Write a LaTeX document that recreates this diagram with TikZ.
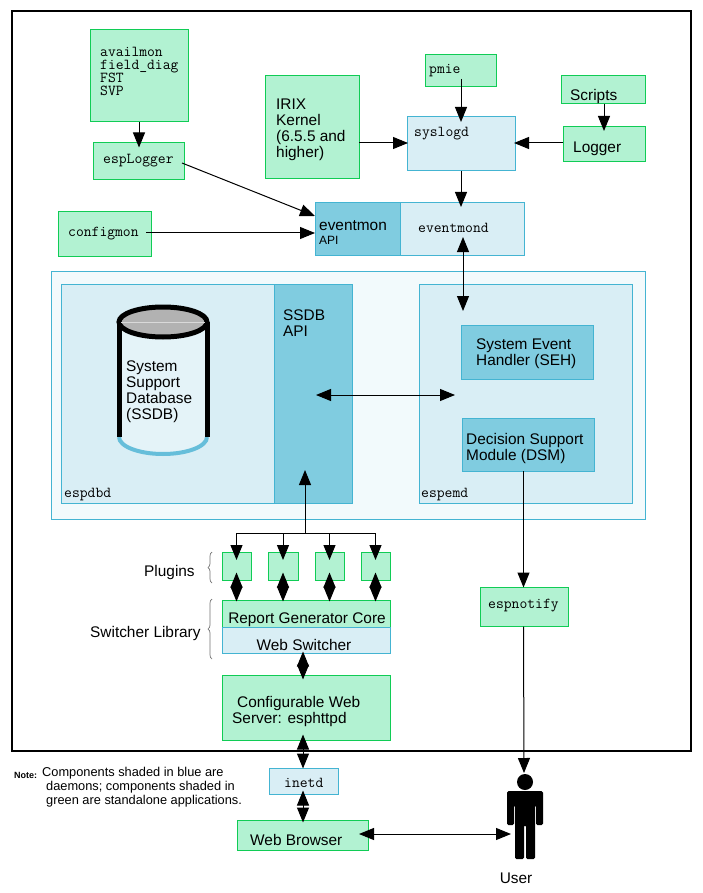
\documentclass[tikz,border=0pt]{standalone}
\usepackage{fontspec}
\setmainfont{Liberation Sans}
\usetikzlibrary{arrows.meta, decorations.pathreplacing}
\definecolor{appgreen}{HTML}{B2F2D2}
\definecolor{appedge}{HTML}{10CC55}
\definecolor{palefill}{HTML}{D9EEF5}
\definecolor{midfill}{HTML}{80CCE0}
\definecolor{blueedge}{HTML}{44B4D2}
\definecolor{outerfill}{HTML}{F2FAFC}
\definecolor{drumrim}{HTML}{66BEDA}
\tikzset{
  greenbox/.style={draw=appedge, fill=appgreen, line width=1pt, inner sep=0pt},
  palebox/.style={draw=blueedge, fill=palefill, line width=1pt, inner sep=0pt},
  midbox/.style={draw=blueedge, fill=midfill, line width=1pt, inner sep=0pt},
  sanstext/.style={anchor=west, align=left, inner sep=0pt, font=\fontsize{15.4}{16}\selectfont},
  monotext/.style={anchor=west, align=left, inner sep=0pt, font=\fontsize{15.2}{13}\selectfont\ttfamily},
  link/.style={line width=1pt},
  bracegrey/.style={draw=black!55, line width=0.7pt, decorate, decoration={brace, amplitude=4pt}},
}
\begin{document}
\begin{tikzpicture}[x=1pt, y=-1pt,
    >={Triangle[length=15pt, width=12pt]}]
    \useasboundingbox (0,0) rectangle (702,893);
    \fill[white] (0,0) rectangle (702,893);

    % outer frame
    \node[draw, line width=2pt, minimum width=679, minimum height=740] (frame) at (351.5,381) {};

    % top row
    \node[greenbox, minimum width=98, minimum height=92] (avail) at (139,76) {};
    \node[monotext] (availtxt) at (100,71) {availmon\\field\_diag\\FST\\SVP};
    \node[greenbox, minimum width=91, minimum height=37] (esplogger) at (139,161.5) {};
    \node[monotext] (esploggertxt) at (103,161) {espLogger};
    \node[greenbox, minimum width=93, minimum height=44] (configmon) at (104.5,234) {};
    \node[monotext] (configmontxt) at (68,234) {configmon};
    \node[greenbox, minimum width=94, minimum height=103] (irix) at (312,127.5) {};
    \node[sanstext] (irixtxt) at (276,130) {IRIX\\Kernel\\(6.5.5 and\\higher)};
    \node[greenbox, minimum width=71, minimum height=32] (pmie) at (460.5,71) {};
    \node[monotext] (pmietxt) at (429,71) {pmie};
    \node[palebox, minimum width=108, minimum height=54] (syslogd) at (461,144) {};
    \node[monotext] (syslogdtxt) at (414,134) {syslogd};
    \node[greenbox, minimum width=84, minimum height=28] (scripts) at (603,90) {};
    \node[sanstext] (scriptstxt) at (570,97) {Scripts};
    \node[greenbox, minimum width=82, minimum height=35] (logger) at (604,144.5) {};
    \node[sanstext] (loggertxt) at (573,149) {Logger};
    \node[midbox, minimum width=85, minimum height=52] (eventapi) at (357.5,229) {};
    \node[sanstext] (eventapitxt) at (319,226) {eventmon};
    \node[inner sep=0pt, anchor=west, font=\fontsize{12}{12}\selectfont] (apitxt) at (319,240) {API};
    \node[palebox, minimum width=124, minimum height=52] (eventmond) at (462,229) {};
    \node[monotext] (eventmondtxt) at (418,228) {eventmond};

    % middle block
    \node[draw=blueedge, fill=outerfill, line width=1pt, minimum width=594, minimum height=248] (ssdbblock) at (348,395) {};
    \node[palebox, minimum width=213, minimum height=219] (espdbd) at (167.5,393.5) {};
    \node[monotext] (espdbdtxt) at (64,495) {espdbd};
    \node[midbox, minimum width=78, minimum height=219] (ssdbapi) at (313,393.5) {};
    \node[sanstext] (ssdbapitxt) at (283,323) {SSDB\\API};
    \node[palebox, minimum width=213, minimum height=219] (espemd) at (525.5,393.5) {};
    \node[monotext] (espemdtxt) at (421,495) {espemd};
    \node[midbox, minimum width=132, minimum height=54] (seh) at (527,352) {};
    \node[sanstext] (sehtxt) at (476,354) {System Event\\Handler (SEH)};
    \node[midbox, minimum width=132, minimum height=53] (dsm) at (528,444.5) {};
    \node[sanstext] (dsmtxt) at (466,449) {Decision Support\\Module (DSM)};

    % database drum
    \fill[palefill!70!white] (119,322) -- (119,437) arc[start angle=180, end angle=360, x radius=44, y radius=-17] -- (207,322) -- cycle;
    \draw[drumrim, line width=4pt] (119,437) arc[start angle=180, end angle=360, x radius=44, y radius=-17];
    \draw[line width=5pt] (119,322) -- (119,437) (207,322) -- (207,437);
    \draw[line width=5pt, fill=black!30] (163,322) ellipse[x radius=44, y radius=15];
    \draw[black!15, line width=0.6pt] (121,322) -- (205,322);
    \node[sanstext] (drumtxt) at (126,392) {System\\Support\\Database\\(SSDB)};

    % plugins and the switcher library
    \foreach \name/\cx/\boxw in {plugina/236.5/29, pluginb/283/30, pluginc/329.5/29, plugind/375.5/29}
      \node[greenbox, minimum width=\boxw, minimum height=28] (\name) at (\cx,566) {};
    \node[greenbox, minimum width=168, minimum height=27] (report) at (306,613.5) {};
    \node[sanstext, anchor=center] (reporttxt) at (307,620) {Report Generator Core};
    \node[palebox, minimum width=168, minimum height=26] (switcher) at (306,640) {};
    \node[sanstext, anchor=center] (switchertxt) at (304,645) {Web Switcher};
    \node[greenbox, minimum width=168, minimum height=65] (httpd) at (306,707.5) {};
    \node[sanstext] (httpdtxt) at (232,712) {\hspace{5pt}Configurable Web\\Server: esphttpd};
    \node[sanstext] (pluginstxt) at (144,573) {Plugins};
    \node[sanstext] (switcherlibtxt) at (90,634) {Switcher Library};
    \coordinate (plugbraceb) at (212,583);
    \coordinate (plugbracet) at (212,552);
    \coordinate (libbraceb) at (212,659);
    \coordinate (libbracet) at (212,599);
    \draw[bracegrey] (plugbraceb) -- (plugbracet);
    \draw[bracegrey] (libbraceb) -- (libbracet);

    % notify, lower boxes and the user
    \node[greenbox, minimum width=88, minimum height=39] (espnotify) at (524,606.5) {};
    \node[monotext] (espnotifytxt) at (488,606) {espnotify};
    \node[palebox, minimum width=69, minimum height=26] (inetd) at (303.5,781) {};
    \node[monotext] (inetdtxt) at (284,783) {inetd};
    \node[greenbox, minimum width=131, minimum height=30] (browser) at (303,835) {};
    \node[sanstext] (browsertxt) at (250,840) {Web Browser};
    \node[inner sep=0pt, anchor=center, font=\fontsize{15.4}{16}\selectfont] (usertxt) at (516,878) {User};
    \node[inner sep=0pt, anchor=west, font=\bfseries\fontsize{9}{12}\selectfont] (notetag) at (14,775) {Note:};
    \node[sanstext, font=\fontsize{12.8}{14}\selectfont] (notetxt) at (42,787) {Components shaded in blue are\\\hspace{4pt}daemons; components shaded in\\\hspace{4pt}green are standalone applications.};

    % user figure
    \coordinate (userhead) at (525,782);
    \fill (userhead) circle (8);
    \fill[rounded corners=1.5pt] (507,791) -- (543,791) -- (543,825) -- (536,825) -- (536,805) -- (535,805)
      -- (535,859) -- (526,859) -- (526,825) -- (524,825) -- (524,859) -- (515,859) -- (515,805) -- (514,805) -- (514,825) -- (507,825) -- cycle;

    % connectors
    \coordinate (espemdend) at (463,311);
    \coordinate (eventmondend) at (463,237);
    \coordinate (ssdbend) at (316,395);
    \coordinate (emdend) at (455,395);
    \coordinate (apibot) at (305,470);
    \coordinate (apibus) at (305,533);
    \coordinate (espinleft) at (315,216);
    \coordinate (esploggerout) at (182,163);
    \coordinate (configout) at (146,233);
    \coordinate (configin) at (315,233);
    \coordinate (irixout) at (359,143);
    \coordinate (irixin) at (408,143);
    \coordinate (loggerout) at (563,143);
    \coordinate (loggerin) at (514,143);
    \coordinate (pmieout) at (461,79);
    \coordinate (pmiein) at (461,122);
    \coordinate (scriptsout) at (604,104);
    \coordinate (scriptsin) at (604,131);
    \coordinate (userin) at (511,834);
    \coordinate (browserout) at (359,834);
    \coordinate (userdown) at (524,773);
    \coordinate (dsmout) at (523.5,471);
    \draw[link, ->, shorten >=-5pt] (avail.south) -- (esplogger.north);
    \draw[link, ->] (esploggerout) -- (espinleft);
    \draw[link, ->] (configout) -- (configin);
    \draw[link, ->] (irixout) -- (irixin);
    \draw[link, ->] (loggerout) -- (loggerin);
    \draw[link, ->] (pmieout) -- (pmiein);
    \draw[link, ->] (scriptsout) -- (scriptsin);
    \draw[link, ->] (syslogd.south) -- (syslogd.south |- 0,207);
    \draw[link, <->] (eventmondend) -- (espemdend);
    \draw[link, <->] (ssdbend) -- (emdend);
    \draw[link, ->] (apibus) -- (apibot);
    \draw[link] (plugina.center |- apibus) -- (plugind.center |- apibus);
    \foreach \name in {plugina, pluginb, pluginc, plugind} {
      \draw[link, ->] (\name.center |- apibus) -- (\name.center |- 0,560);
      \draw[link, <->, shorten <=-8pt, shorten >=-2pt] (\name.south) -- (\name.south |- report.north);
    }
    \draw[link, <->, shorten <=-2pt, shorten >=-5pt] (switcher.south -| 303,0) -- (httpd.north -| 303,0);
    \draw[link, <->, shorten <=-6pt, shorten >=-1pt] (httpd.south -| 303,0) -- (inetd.north -| 303,0);
    \draw[link, <->, shorten <=-4pt, shorten >=-3pt] (inetd.south -| 303,0) -- (browser.north -| 303,0);
    \draw[link, <->] (browserout) -- (userin);
    \draw[link, ->, shorten >=-1pt] (dsmout) -- (espnotify.north -| dsmout);
    \draw[link, ->] (espnotify.south -| dsmout) -- (userdown);
\end{tikzpicture}
\end{document}
